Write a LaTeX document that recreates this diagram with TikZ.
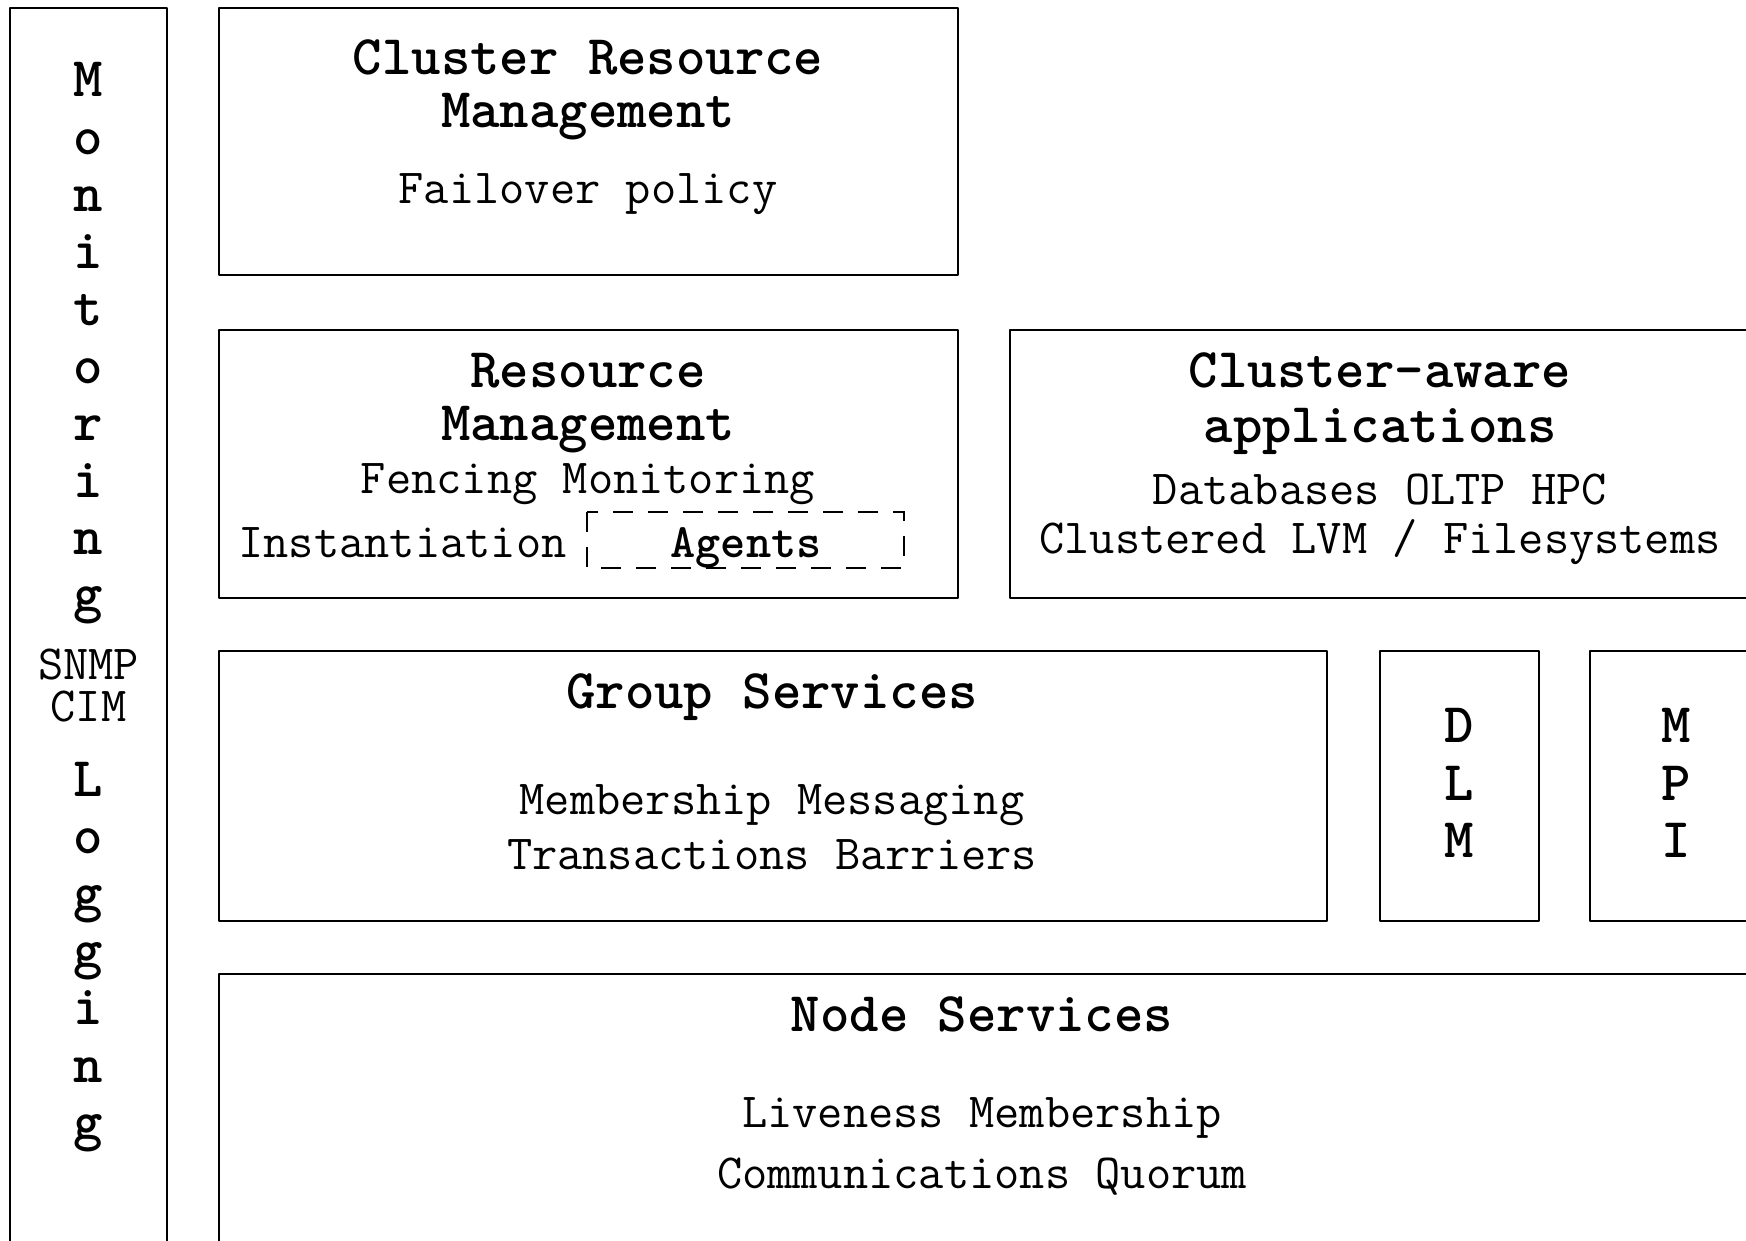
\documentclass[tikz,border=0pt]{standalone}
\usepackage{fontspec}
\tikzset{
  boxline/.style={draw=black, line width=2.7pt, line join=round},
  dashline/.style={draw=black, line width=2.7pt, dash pattern=on 20pt off 15pt},
  ttl/.style={anchor=base, inner sep=0pt, font=\ttfamily\bfseries\fontsize{56}{66}\selectfont},
  txt/.style={anchor=base, inner sep=0pt, font=\ttfamily\fontsize{49}{57}\selectfont},
}
\begin{document}
\begin{tikzpicture}[x=1pt,y=-1pt]
\useasboundingbox (0,0) rectangle (1746,1241);
\clip (0,0) rectangle (1746,1241);
% Monitoring / Logging column
\draw[boxline] (10,8) rectangle (167,1300);
\foreach \ch [count=\i from 0] in {M,o,n,i,t,o,r,i,n,g}
  \node[ttl] (mon\i) at (88.5,{97+57.2*\i}) {\ch};
\node[txt] (snmp) at (88.5,679) {SNMP};
\node[txt] (cim) at (88.5,721) {CIM};
\foreach \ch [count=\i from 0] in {L,o,g,g,i,n,g}
  \node[ttl] (log\i) at (88.5,{796+57.2*\i}) {\ch};
% Cluster Resource Management
\draw[boxline] (219,8) rectangle (958,275);
\node[ttl] (crm1) at (588,75) {Cluster Resource};
\node[ttl] (crm2) at (588,128) {Management};
\node[txt] (crm3) at (588,204) {Failover policy};
% Resource Management
\draw[boxline] (219,330) rectangle (958,598);
\node[ttl] (rm1) at (588,387) {Resource};
\node[ttl] (rm2) at (588,440) {Management};
\node[txt] (rm3) at (588,493) {Fencing Monitoring};
\node[txt] (rm4) at (402.5,557) {Instantiation};
\draw[dashline] (587,512) rectangle (904,568);
\node[ttl, font=\ttfamily\bfseries\fontsize{48}{56}\selectfont] (agents) at (746,557) {Agents};
% Cluster-aware applications
\draw[boxline] (1010,330) rectangle (1800,598);
\node[ttl] (ca1) at (1380,387) {Cluster-aware};
\node[ttl] (ca2) at (1380,442) {applications};
\node[txt] (ca3) at (1380,504) {Databases OLTP HPC};
\node[txt] (ca4) at (1380,553) {Clustered LVM / Filesystems};
% Group Services
\draw[boxline] (219,651) rectangle (1327,921);
\node[ttl] (gs1) at (772,708) {Group Services};
\node[txt] (gs2) at (772,814) {Membership Messaging};
\node[txt] (gs3) at (772,869) {Transactions Barriers};
% DLM
\draw[boxline] (1380,651) rectangle (1539,921);
\node[ttl] (dlm1) at (1459,742) {D};
\node[ttl] (dlm2) at (1459,800) {L};
\node[ttl] (dlm3) at (1459,857) {M};
% MPI
\draw[boxline] (1590,651) rectangle (1800,921);
\node[ttl] (mpi1) at (1676,742) {M};
\node[ttl] (mpi2) at (1676,800) {P};
\node[ttl] (mpi3) at (1676,857) {I};
% Node Services
\draw[boxline] (219,974) rectangle (1800,1300);
\node[ttl] (ns1) at (982,1031) {Node Services};
\node[txt] (ns2) at (982,1127) {Liveness Membership};
\node[txt] (ns3) at (982,1188) {Communications Quorum};
\end{tikzpicture}
\end{document}
